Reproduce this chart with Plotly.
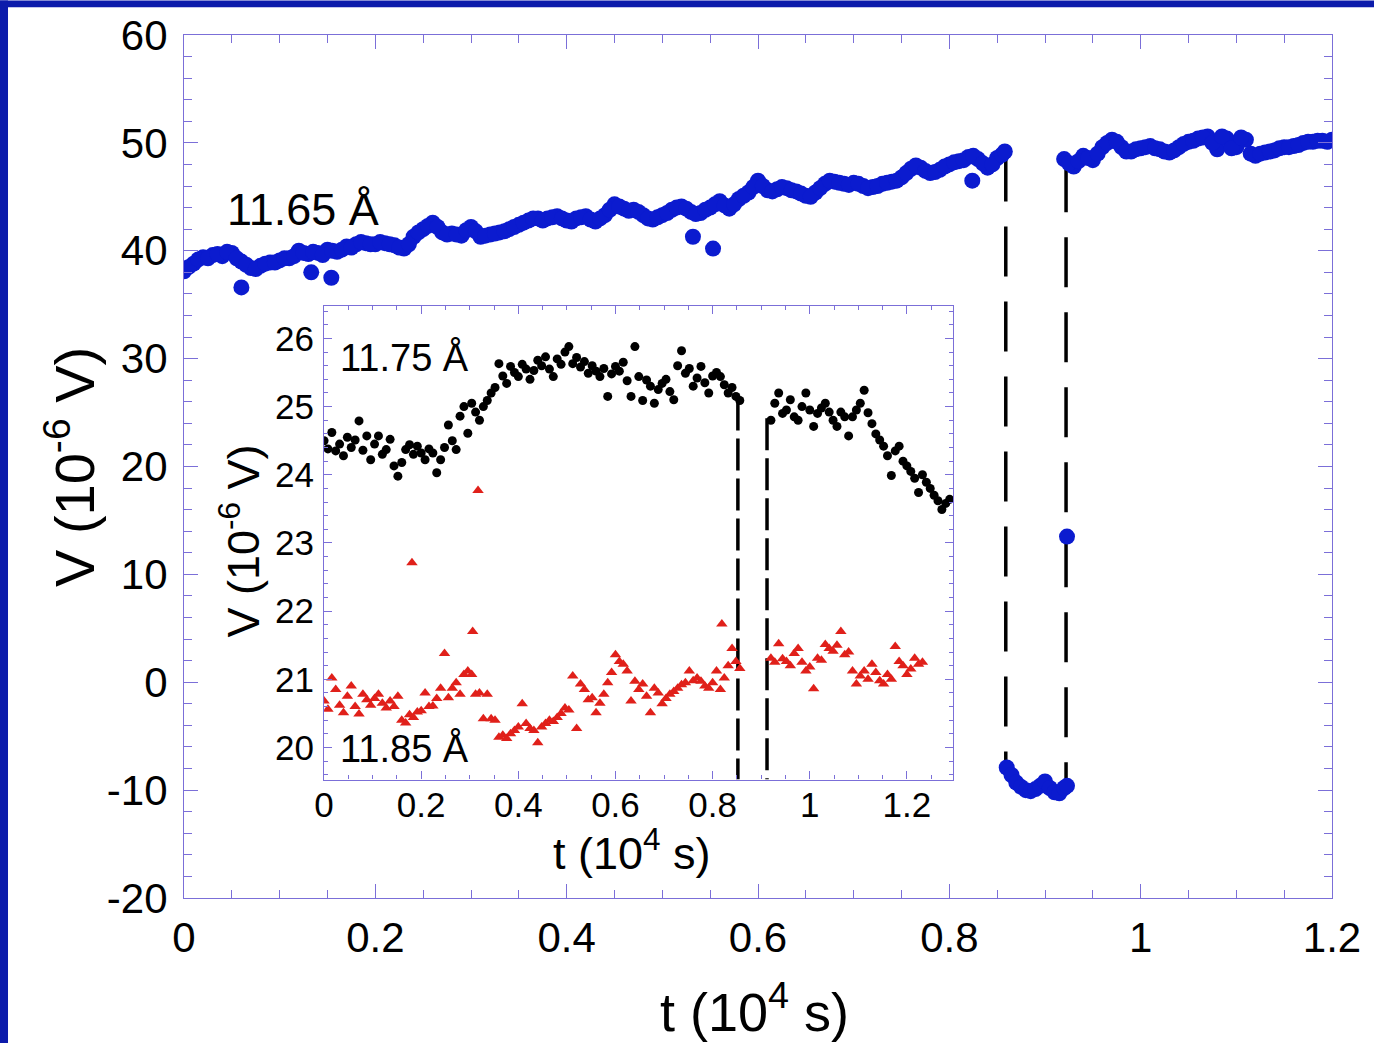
import numpy as np
import plotly.graph_objects as go

# ---------------- main series (11.65 A), blue ----------------
main_t1 = np.round(np.arange(0.0, 0.851, 0.01), 3)
main_v1 = [38.1, 38.8, 39.4, 39.6, 39.5, 39.8, 39.0, 38.4, 38.6, 38.9,
           39.1, 39.3, 40.0, 39.7, 39.8, 40.1, 39.9, 40.4, 40.6, 40.7,
           40.6, 40.7, 40.5, 40.2, 41.3, 42.0, 42.6, 41.7, 41.6, 41.4,
           42.2, 41.3, 41.5, 41.7, 42.0, 42.4, 42.8, 43.0, 43.0, 43.2,
           42.8, 43.0, 43.2, 42.7, 43.3, 44.3, 43.9, 43.8, 43.3, 42.9,
           43.3, 43.8, 44.1, 43.6, 43.5, 44.0, 44.6, 43.9, 44.8, 45.4,
           46.5, 45.6, 45.7, 45.8, 45.5, 45.1, 45.4, 46.2, 46.4, 46.2,
           46.3, 46.0, 45.9, 46.2, 46.4, 46.8, 47.6, 47.7, 47.2, 47.5,
           48.0, 48.3, 48.7, 48.5, 47.7, 48.6]
main_t1b = np.round(np.arange(0.005, 0.856, 0.01), 3)
main_v1b = [38.5, 39.2, 39.3, 39.7, 39.9, 39.3, 38.7, 38.3, 38.8, 38.9,
            39.3, 39.5, 39.8, 39.9, 39.6, 40.0, 40.1, 40.3, 40.8, 40.6,
            40.8, 40.6, 40.3, 40.6, 41.7, 42.3, 42.2, 41.5, 41.5, 41.9,
            41.8, 41.4, 41.6, 41.8, 42.2, 42.6, 43.0, 42.8, 43.1, 43.0,
            42.7, 43.1, 42.9, 43.0, 43.8, 44.1, 43.7, 43.6, 43.0, 43.1,
            43.5, 44.0, 43.9, 43.4, 43.8, 44.3, 44.2, 44.3, 45.1, 45.9,
            46.0, 45.5, 45.9, 45.6, 45.3, 45.0, 45.8, 46.5, 46.3, 46.1,
            46.2, 45.8, 46.0, 46.3, 46.5, 47.2, 47.9, 47.4, 47.3, 47.8,
            48.2, 48.4, 48.8, 48.1, 48.0, 48.9]
main_t1_end = [0.858]
main_v1_end = [49.2]

main_t2 = [0.860, 0.865, 0.870, 0.875, 0.880, 0.885, 0.890, 0.895,
           0.900, 0.905, 0.910, 0.915, 0.920, 0.923]
main_v2 = [-7.9, -8.6, -9.3, -9.7, -10.0, -10.1, -9.9, -9.6,
           -9.2, -9.8, -10.2, -10.3, -9.8, -9.6]

main_t3 = np.round(np.arange(0.92, 1.201, 0.01), 3)
main_v3 = [48.5, 47.8, 48.8, 48.4, 49.6, 50.3, 49.6, 49.2, 49.5, 49.7,
           49.4, 49.1, 49.6, 50.1, 50.4, 50.6, 49.4, 50.4, 49.6, 50.3,
           48.8, 49.1, 49.3, 49.6, 49.7, 50.0, 50.1, 50.2, 50.3]
main_t3b = np.round(np.arange(0.925, 1.196, 0.01), 3)
main_v3b = [48.1, 48.3, 48.6, 49.0, 50.0, 50.1, 49.2, 49.4, 49.6, 49.5,
            49.2, 49.3, 49.9, 50.2, 50.5, 50.0, 50.6, 49.5, 50.5, 49.0,
            49.0, 49.2, 49.5, 49.6, 49.8, 50.1, 50.2, 50.1]

main_out_t = [0.060, 0.133, 0.154, 0.532, 0.553, 0.824, 0.923]
main_out_v = [36.6, 38.0, 37.5, 41.3, 40.2, 46.5, 13.5]

# dashed guide lines (main)
main_dash_t = [0.859, 0.922]
main_dash_top = [49.2, 48.2]
main_dash_bot = [-7.9, -9.7]

# ---------------- inset: 11.75 A (black) ----------------
ins_t1 = np.round(np.arange(0.0, 0.857, 0.008), 3)
black_v1 = [24.50, 24.38, 24.62, 24.35, 24.45, 24.28, 24.55, 24.40, 24.51, 24.79,
            24.36, 24.57, 24.22, 24.45, 24.57, 24.30, 24.37, 24.52, 24.13, 23.98,
            24.18, 24.37, 24.44, 24.30, 24.42, 24.32, 24.22, 24.38, 24.32, 24.03,
            24.22, 24.40, 24.73, 24.50, 24.37, 24.86, 25.00, 24.61, 25.05, 24.92,
            24.80, 25.00, 25.09, 25.20, 25.28, 25.63, 25.45, 25.34, 25.59, 25.50,
            25.44, 25.62, 25.55, 25.40, 25.53, 25.68, 25.60, 25.73, 25.55, 25.44,
            25.70, 25.62, 25.80, 25.88, 25.63, 25.72, 25.58, 25.66, 25.49, 25.60,
            25.52, 25.44, 25.56, 25.15, 25.48, 25.59, 25.52, 25.65, 25.38, 25.15,
            25.88, 25.44, 25.09, 25.39, 25.30, 25.05, 25.25, 25.34, 25.40, 25.22,
            25.10, 25.60, 25.82, 25.49, 25.56, 25.30, 25.42, 25.59, 25.35, 25.20,
            25.45, 25.50, 25.44, 25.32, 25.20, 25.28, 25.15, 25.09]
ins_t2b = np.round(np.arange(0.92, 1.289, 0.008), 3)
black_v2 = [24.80, 25.05, 25.20, 24.90, 24.95, 25.10, 24.85, 24.80, 25.00, 25.20,
            24.95, 24.71, 24.90, 24.98, 25.05, 24.92, 24.80, 24.71, 24.92, 24.85,
            24.57, 24.85, 24.95, 25.05, 25.24, 24.91, 24.75, 24.60, 24.51, 24.42,
            24.28, 23.99, 24.35, 24.42, 24.20, 24.13, 24.05, 23.95, 23.74, 24.00,
            23.89, 23.80, 23.70, 23.62, 23.49, 23.58, 23.64]

# ---------------- inset: 11.85 A (red) ----------------
red_v1 = [20.68, 20.56, 21.02, 20.85, 20.62, 20.51, 20.75, 20.90, 20.60, 20.49,
          20.78, 20.70, 20.62, 20.72, 20.78, 20.65, 20.58, 20.68, 20.60, 20.75,
          20.40, 20.36, 20.48, 20.44, 20.52, 20.54, 20.80, 20.60, 20.61, 20.72,
          20.87, 21.38, 20.73, 20.87, 20.95, 20.78, 21.07, 21.12, 21.07, 20.78,
          20.80, 20.42, 20.78, 20.42, 20.40, 20.15, 20.18, 20.13, 20.20, 20.25,
          20.30, 20.64, 20.35, 20.28, 20.25, 20.07, 20.30, 20.35, 20.40, 20.38,
          20.44, 20.50, 20.58, 20.55, 21.05, 20.28, 20.93, 20.85, 20.70, 20.73,
          20.51, 20.65, 20.78, 20.95, 21.10, 21.36, 21.26, 21.22, 21.12, 20.68,
          20.97, 20.85, 20.93, 20.75, 20.51, 20.87, 20.80, 20.64, 20.72, 20.78,
          20.82, 20.87, 20.92, 20.95, 21.12, 20.98, 21.02, 20.97, 20.90, 20.87,
          20.95, 21.12, 20.85, 21.02, 21.20, 21.45, 21.26, 21.16]
ins_t2r = np.round(np.arange(0.92, 1.233, 0.008), 3)
red_v2 = [21.31, 21.25, 21.52, 21.30, 21.26, 21.20, 21.38, 21.45, 21.25, 21.12,
          21.18, 20.86, 21.31, 21.28, 21.51, 21.45, 21.41, 21.50, 21.70, 21.36,
          21.40, 21.12, 20.93, 21.05, 21.12, 21.00, 21.22, 21.10, 20.98, 20.93,
          21.07, 21.00, 21.48, 21.26, 21.20, 21.07, 21.15, 21.31, 21.22, 21.25]
red_out_t = [0.181, 0.306, 0.317, 0.819]
red_out_v = [22.71, 21.70, 23.77, 21.81]

ins_dash_t = [0.852, 0.912]
ins_dash_top = [25.12, 24.83]
ins_dash_bot = [19.53, 19.53]

# tick labels
main_y_ticks = [-20, -10, 0, 10, 20, 30, 40, 50, 60]
main_y_text = ["-20", "-10", "0", "10", "20", "30", "40", "50", "60"]

BLUE = "#0b1bcf"
RED = "#e0201a"
AXC = "#7b6fd8"
FONT = "Liberation Sans, Arial, sans-serif"

fig = go.Figure()

# main dashed lines
for t, top, bot in zip(main_dash_t, main_dash_top, main_dash_bot):
    fig.add_trace(go.Scatter(x=[t, t], y=[top, bot], mode="lines",
                             line=dict(color="black", width=3.5, dash="50px,25px"),
                             xaxis="x", yaxis="y", hoverinfo="skip"))

mk_main = dict(color=BLUE, size=16, symbol="circle")
for tt, vv in [(main_t1, main_v1), (main_t1b, main_v1b), (main_t1_end, main_v1_end),
               (main_t2, main_v2), (main_t3, main_v3), (main_t3b, main_v3b),
               (main_out_t, main_out_v)]:
    fig.add_trace(go.Scatter(x=list(tt), y=vv, mode="markers", marker=mk_main,
                             xaxis="x", yaxis="y"))

# inset dashed lines
for t, top, bot in zip(ins_dash_t, ins_dash_top, ins_dash_bot):
    fig.add_trace(go.Scatter(x=[t, t], y=[top, bot], mode="lines",
                             line=dict(color="black", width=3.5, dash="32px,8px"),
                             xaxis="x2", yaxis="y2", hoverinfo="skip"))

mk_black = dict(color="black", size=9, symbol="circle")
mk_red = dict(color=RED, size=10, symbol="triangle-up")
fig.add_trace(go.Scatter(x=list(ins_t1), y=black_v1, mode="markers", marker=mk_black, xaxis="x2", yaxis="y2"))
fig.add_trace(go.Scatter(x=list(ins_t2b), y=black_v2, mode="markers", marker=mk_black, xaxis="x2", yaxis="y2"))
fig.add_trace(go.Scatter(x=list(ins_t1), y=red_v1, mode="markers", marker=mk_red, xaxis="x2", yaxis="y2"))
fig.add_trace(go.Scatter(x=list(ins_t2r), y=red_v2, mode="markers", marker=mk_red, xaxis="x2", yaxis="y2"))
fig.add_trace(go.Scatter(x=red_out_t, y=red_out_v, mode="markers", marker=mk_red, xaxis="x2", yaxis="y2"))

axis_common = dict(showline=True, linecolor=AXC, linewidth=1.2, mirror="allticks",
                   ticks="inside", tickcolor=AXC, showgrid=False, zeroline=False)

fig.update_layout(
    width=1374, height=1043,
    margin=dict(l=184, r=42, t=31, b=145),
    paper_bgcolor="white", plot_bgcolor="white",
    showlegend=False,
    font=dict(family=FONT, color="black"),
    xaxis=dict(domain=[0, 1], range=[0, 1.2], dtick=0.2, tick0=0, ticklen=14, tickwidth=1.2,
               minor=dict(dtick=0.05, ticklen=8, tickcolor=AXC, ticks="inside"),
               tickfont=dict(size=42, family=FONT), ticklabelstandoff=2, **axis_common),
    yaxis=dict(domain=[0, 1], range=[-20, 60], tickvals=main_y_ticks, ticktext=main_y_text,
               ticklen=14, tickwidth=1.2,
               minor=dict(dtick=2, ticklen=8, tickcolor=AXC, ticks="inside"),
               tickfont=dict(size=42, family=FONT), ticklabelstandoff=7, **axis_common),
    xaxis2=dict(domain=[0.1220, 0.6699], range=[0, 1.295], dtick=0.2, tick0=0, ticklen=8, tickwidth=1.2,
                minor=dict(dtick=0.05, ticklen=4, tickcolor=AXC, ticks="inside"),
                tickfont=dict(size=35, family=FONT), ticklabelstandoff=-6, anchor="y2", **axis_common),
    yaxis2=dict(domain=[0.1373, 0.6863], range=[19.53, 26.48], dtick=1, tick0=20, ticklen=8, tickwidth=1.2,
                minor=dict(dtick=0.2, ticklen=4, tickcolor=AXC, ticks="inside"),
                tickfont=dict(size=35, family=FONT), ticklabelstandoff=2, anchor="x2", **axis_common),
)

annotations = [
    dict(text="V (10<sup>-6</sup> V)", xref="paper", yref="paper", x=-0.0993, y=0.4994,
         xanchor="center", yanchor="middle",
         textangle=-90, showarrow=False, font=dict(size=56, family=FONT)),
    dict(text="t (10<sup>4</sup> s)", xref="paper", yref="paper", x=0.497, y=-0.127,
         xanchor="center", yanchor="middle",
         showarrow=False, font=dict(size=54, family=FONT)),
    dict(text="V (10<sup>-6</sup> V)", xref="paper", yref="paper", x=0.0488, y=0.413,
         xanchor="center", yanchor="middle",
         textangle=-90, showarrow=False, font=dict(size=45, family=FONT)),
    dict(text="t (10<sup>4</sup> s)", xref="paper", yref="paper", x=0.390, y=0.0554,
         xanchor="center", yanchor="middle",
         showarrow=False, font=dict(size=45, family=FONT)),
    dict(text="11.65 Å", xref="x", yref="y", x=0.043, y=43.8, xanchor="left", yanchor="middle",
         showarrow=False, font=dict(size=45, family=FONT)),
    dict(text="11.75 Å", xref="x2", yref="y2", x=0.029, y=25.72, xanchor="left", yanchor="middle",
         showarrow=False, font=dict(size=38, family=FONT)),
    dict(text="11.85 Å", xref="x2", yref="y2", x=0.029, y=19.99, xanchor="left", yanchor="middle",
         showarrow=False, font=dict(size=38, family=FONT)),
]
fig.update_layout(annotations=annotations)

# blue frame strips (left and top)
FRAME = "#0c1bab"
fig.update_layout(shapes=[
    dict(type="rect", xref="paper", yref="paper", x0=-0.1603, x1=-0.1533, y0=-0.17, y1=1.04,
         fillcolor=FRAME, line=dict(width=0), layer="above"),
    dict(type="rect", xref="paper", yref="paper", x0=-0.1603, x1=1.0366, y0=1.0323, y1=1.04,
         fillcolor=FRAME, line=dict(width=0), layer="above"),
])

fig.write_html("out.html", config={"displayModeBar": False},
               post_script="document.body.style.margin='0px';")
